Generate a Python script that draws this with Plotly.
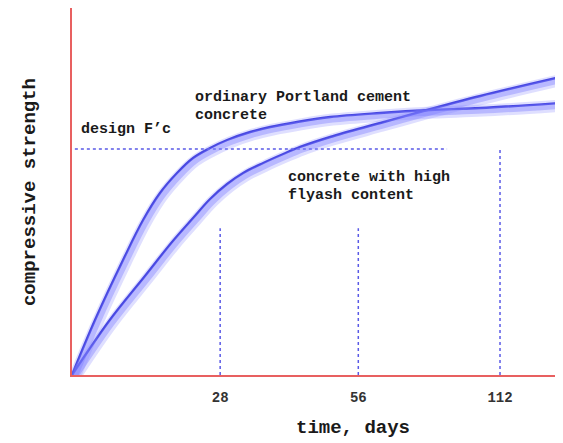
import plotly.graph_objects as go

# x positions on an evenly spaced schematic time axis (tick index units)
opc_x = [0, 0.161, 0.357, 0.497, 0.615, 0.734, 0.846, 0.965, 1.084, 1.245, 1.385, 1.573, 1.804, 2.154, 2.503, 2.853, 3.413]
opc_y = [0, 14.99, 31.34, 42.23, 49.59, 55.04, 59.13, 61.85, 64.03, 66.21, 67.57, 68.94, 70.30, 71.39, 72.21, 72.75, 74.11]

fly_x = [0, 0.259, 0.510, 0.699, 0.846, 0.965, 1.084, 1.196, 1.336, 1.476, 1.594, 1.804, 2.154, 2.455, 2.853, 3.413]
fly_y = [0, 14.71, 26.98, 36.24, 42.78, 47.96, 52.04, 55.04, 57.77, 60.22, 62.13, 64.85, 68.66, 71.93, 76.02, 81.20]

tick_pos = [1.035, 2.0, 2.99]
tick_labels = ["28", "56", "112"]
marker_tops = [40.0, 40.0, 61.3]

design_fc = 61.6
design_span = [0.02, 2.62]

FONT = "Liberation Mono, Courier New, monospace"
DARK = "#2f2fd6"
DOT = "#5a5ae6"

fig = go.Figure()

# soft glow (drawn on overlay axes nudged slightly right/down)
for xs, ys in [(opc_x, opc_y), (fly_x, fly_y)]:
    fig.add_trace(go.Scatter(x=xs, y=ys, mode="lines", xaxis="x2", yaxis="y2",
                             line=dict(color="rgba(140,140,255,0.28)", width=12, shape="spline", smoothing=1.0),
                             hoverinfo="skip", showlegend=False))
    fig.add_trace(go.Scatter(x=xs, y=ys, mode="lines", xaxis="x2", yaxis="y2",
                             line=dict(color="rgba(120,120,255,0.38)", width=6, shape="spline", smoothing=1.0),
                             hoverinfo="skip", showlegend=False))
for xs, ys in [(opc_x, opc_y), (fly_x, fly_y)]:
    fig.add_trace(go.Scatter(x=xs, y=ys, mode="lines",
                             line=dict(color=DARK, width=2.4, shape="spline", smoothing=1.0),
                             showlegend=False))

# design F'c line
fig.add_trace(go.Scatter(x=design_span, y=[design_fc, design_fc], mode="lines",
                         line=dict(color=DOT, width=1.5, dash="dot"), showlegend=False))
# vertical age markers
for xp, top in zip(tick_pos, marker_tops):
    fig.add_trace(go.Scatter(x=[xp, xp], y=[0, top], mode="lines",
                             line=dict(color=DOT, width=1.5, dash="dot"), showlegend=False))

txt = dict(family=FONT, size=15, color="#1a1a1a")
annotations = [
    dict(x=0.846, y=75.7, text="<b>ordinary Portland cement</b>"),
    dict(x=0.846, y=70.8, text="<b>concrete</b>"),
    dict(x=0.050, y=67.0, text="<b>design F\u2019c</b>"),
    dict(x=1.497, y=53.7, text="<b>concrete with high</b>"),
    dict(x=1.497, y=49.0, text="<b>flyash content</b>"),
]
for a in annotations:
    a.update(xref="x", yref="y", xanchor="left", yanchor="middle", showarrow=False, font=txt)
    fig.add_annotation(**a)

fig.add_annotation(x=0.572, y=-0.144, xref="paper", yref="paper", showarrow=False,
                   xanchor="center", yanchor="middle",
                   text="<b>time, days</b>", font=dict(family=FONT, size=19, color="#1a1a1a"))
fig.add_annotation(x=-0.0855, y=0.4986, xref="paper", yref="paper", showarrow=False, textangle=-90,
                   xanchor="center", yanchor="middle",
                   text="<b>compressive strength</b>", font=dict(family=FONT, size=19, color="#1a1a1a"))

fig.update_layout(
    width=555, height=435,
    margin=dict(l=64, r=0, t=0, b=68),
    paper_bgcolor="white", plot_bgcolor="white",
    xaxis=dict(range=[0, 3.43], showgrid=False, zeroline=False, showline=True,
               linecolor="#e86060", linewidth=2, tickvals=tick_pos,
               ticktext=["<b>%s</b>" % t for t in tick_labels], ticks="",
               ticklabelstandoff=8,
               tickfont=dict(family=FONT, size=14, color="#333333")),
    yaxis=dict(range=[0, 100], showgrid=False, zeroline=False, showline=True,
               linecolor="#e86060", linewidth=2, showticklabels=False, ticks=""),
    xaxis2=dict(overlaying="x", range=[-0.017, 3.413], visible=False),
    yaxis2=dict(overlaying="y", range=[0.7, 100.7], visible=False),
)

fig.write_html("out.html")
